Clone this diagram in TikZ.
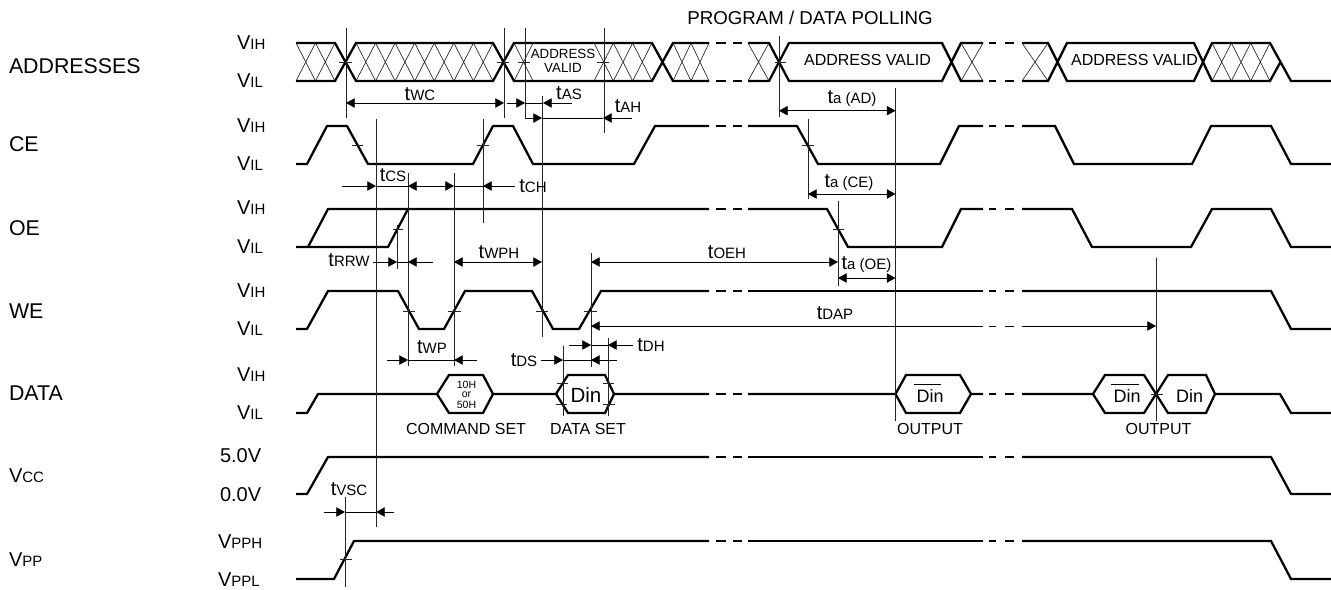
\documentclass[tikz,border=0pt]{standalone}
\usepackage{fontspec}
\setmainfont{Liberation Sans}
\usetikzlibrary{arrows.meta}
\newcommand\bigt[1]{\fontsize{15}{18}\selectfont #1}
\newcommand\smt[1]{\fontsize{11.25}{14}\selectfont #1}
\newcommand\tm[1]{\bigt{t}\smt{#1}}
\newcommand\vv[1]{\bigt{V}\smt{#1}}
\newcommand\hatchcells[3]{\foreach \i in {1,...,#3}{%
  \pgfmathsetmacro\xa{#1+(\i-1)*(#2-#1)/#3}\pgfmathsetmacro\xb{#1+\i*(#2-#1)/#3}%
  \draw[hatchline] (\xa,43) -- (\xb,81) (\xa,81) -- (\xb,43);}}
\tikzset{
  x=0.75pt,y=-0.75pt,
  sig/.style={line width=1.7pt,line join=miter,black},
  thinl/.style={line width=0.75pt,black!85},
  hatchline/.style={line width=0.5pt,black!85},
  tickl/.style={line width=0.6pt,black!85},
  dimr/.style={line width=0.6pt,-{Triangle[length=6.5pt,width=7pt]}},
  dimb/.style={line width=0.6pt,{Triangle[length=6.5pt,width=7pt]}-{Triangle[length=6.5pt,width=7pt]}},
  dimp/.style={line width=0.6pt},
  lab/.style={inner sep=0pt,outer sep=0pt,align=center},
  name1/.style={lab,anchor=west,font=\fontsize{16}{18}\selectfont},
  lev/.style={lab,anchor=west},
  captxt/.style={lab,font=\fontsize{12}{14}\selectfont},
}
\begin{document}
\begin{tikzpicture}
\useasboundingbox (0,0) rectangle (1331,589);
% signal names
\node[name1] (nA) at (9,66) {ADDRESSES};
\node[name1] (nC) at (9,144.5) {CE};
\node[name1] (nO) at (9,228.5) {OE};
\node[name1] (nW) at (9,311.5) {WE};
\node[name1] (nD) at (9,393.5) {DATA};
\node[lev] (nV) at (9,476) {\vv{CC}};
\node[lev] (nP) at (9,560) {\vv{PP}};
% level labels
\foreach \n/\y in {a/43,c/126,o/208,w/291,d/375} \node[lev] (h\n) at (237,\y) {\vv{IH}};
\foreach \n/\y in {a/81,c/164,o/247,w/329,d/413} \node[lev] (l\n) at (237,\y) {\vv{IL}};
\node[lev] (v5) at (220,456) {\bigt{5.0V}};
\node[lev] (v0) at (220,495) {\bigt{0.0V}};
\node[lev] (pph) at (218,542) {\vv{PPH}};
\node[lev] (ppl) at (218,580) {\vv{PPL}};
\node[captxt,font=\fontsize{14}{16}\selectfont] (title) at (810,18) {PROGRAM / DATA POLLING};
% addresses: hatching
\hatchcells{296}{335}{2}
\hatchcells{356}{493}{7}
\hatchcells{514}{533}{1}
\hatchcells{594}{652}{3}
\hatchcells{673}{709}{2}
\hatchcells{748}{769}{1}
\hatchcells{961}{983}{1}
\hatchcells{1022}{1048}{1}
\hatchcells{1212}{1270}{3}
% addresses: outline
\draw[sig] (296,43) -- (335,43) -- (356,81) -- (493,81) -- (514,43) -- (652,43) -- (673,81) -- (709,81)
  (296,81) -- (335,81) -- (356,43) -- (493,43) -- (514,81) -- (652,81) -- (673,43) -- (709,43);
\draw[sig] (748,43) -- (769,43) -- (789,81) -- (942,81) -- (961,43) -- (983,43)
  (748,81) -- (769,81) -- (789,43) -- (942,43) -- (961,81) -- (983,81);
\draw[sig] (1022,43) -- (1048,43) -- (1067,81) -- (1194,81) -- (1212,43) -- (1270,43) -- (1291,81) -- (1331,81)
  (1022,81) -- (1048,81) -- (1067,43) -- (1194,43) -- (1212,81) -- (1270,81) -- (1280.5,62);
\foreach \y in {43,81} \draw[sig] (716,\y) -- (726,\y) (733,\y) -- (742,\y) (988.5,\y) -- (996,\y) (1005,\y) -- (1013.5,\y);
% CE
\draw[sig] (296,164) -- (307,164) -- (327,126) -- (347,126) -- (368,164) -- (473,164) -- (493,126) -- (513,126) -- (533,164) -- (634,164) -- (655,126) -- (709,126);
\draw[sig] (748,126) -- (797,126) -- (818,164) -- (940,164) -- (959,126) -- (983,126);
\draw[sig] (1022,126) -- (1055,126) -- (1074,164) -- (1192,164) -- (1211,126) -- (1271,126) -- (1291,164) -- (1331,164);
% OE
\draw[sig] (296,247) -- (388,247) -- (408,209) (308,247) -- (328,209) -- (709,209);
\draw[sig] (748,209) -- (827,209) -- (848,247) -- (942,247) -- (961,209) -- (983,209);
\draw[sig] (1022,209) -- (1072,209) -- (1092,247) -- (1191,247) -- (1212,209) -- (1271,209) -- (1291,247) -- (1331,247);
% WE
\draw[sig] (296,329) -- (307,329) -- (328,291) -- (398,291) -- (419,329) -- (444,329) -- (465,291) -- (532,291) -- (553,329) -- (579,329) -- (601,291) -- (709,291);
\draw[sig] (748,291) -- (983,291);
\draw[sig] (1022,291) -- (1271,291) -- (1291,329) -- (1331,329);
% DATA
\draw[sig] (296,413) -- (307,413) -- (318,394) -- (437,394) -- (449,375) -- (483,375) -- (493,394) -- (556,394) -- (568,375) -- (605,375) -- (614,394) -- (709,394);
\draw[sig] (437,394) -- (449,413) -- (483,413) -- (493,394) (556,394) -- (568,413) -- (605,413) -- (614,394);
\draw[sig] (748,394) -- (895.5,394) -- (906,375) -- (960,375) -- (971,394) -- (983,394) (895.5,394) -- (906,413) -- (960,413) -- (971,394);
\draw[sig] (1022,394) -- (1093,394) -- (1105,375) -- (1144,375) -- (1168,413) -- (1206,413) -- (1215,394) -- (1280,394) -- (1291,413) -- (1331,413);
\draw[sig] (1093,394) -- (1105,413) -- (1144,413) -- (1168,375) -- (1206,375) -- (1215,394);
% Vcc
\draw[sig] (296,494) -- (307,494) -- (328,457) -- (709,457);
\draw[sig] (748,457) -- (983,457);
\draw[sig] (1022,457) -- (1271,457) -- (1291,494) -- (1331,494);
% Vpp
\draw[sig] (296,579) -- (334,579) -- (354,541) -- (709,541);
\draw[sig] (748,541) -- (983,541);
\draw[sig] (1022,541) -- (1271,541) -- (1291,579) -- (1331,579);
% dashes on the single-level rows
\foreach \y in {126,209,291,394,457,541} \draw[sig] (716,\y) -- (726,\y) (733,\y) -- (742,\y) (988.5,\y) -- (996,\y) (1005,\y) -- (1013.5,\y);
% reference lines
\foreach \x/\a/\b in {346/28/118,504/28/118,525/28/118,604/28/133,542/96/337,376/119/527,483/119/223,
  408/173/366,454/173/366,397/225/269,591/253/367,563/346/416,608/338/416,
  779/36/117,895.5/88/421,808/119/199,838/201/286,1156/258/421,345/497/587}
  \draw[thinl] (\x,\a) -- (\x,\b);
% ticks
\foreach \a/\b/\y in {339/352/62,497/509/62,518/530/62,597/609/62,775/786/62,
  352/363/145,477/489/145,802/814/145,393/403/229,833/844/229,
  403/415/311,448/461/311,536/548/311,584/597/311,
  557/568/383,603/614/383,556/567/404,603/615/404,1151/1163/394,340/352/559}
  \draw[tickl] (\a,\y) -- (\b,\y);
% named dimension ends
\foreach \n/\x/\y in {wcA/346/103,wcB/504/103,asA/507/103,asB/525/103,asC/543/103,asD/572/103,
  ahA/525/118,ahB/542/118,ahC/603/118,ahD/632/118,
  csA/342/186,csB/376/186,csC/408/186,csD/454/186,csE/483/186,csF/515/186,
  rrA/373/262,rrB/397/262,rrC/408/262,rrD/433/262,wphA/454/262,wphB/542/262,
  oehA/591/262,oehB/838/262,oeA/838/278,oeB/895.5/278,
  dapA/591/326,dapB/1156/326,wpA/387/360,wpB/408/360,wpC/454/360,wpD/477/360,
  dsA/541/360,dsB/563/360,dsC/591/360,dsD/617/360,
  dhA/569/345,dhB/591/345,dhC/608/345,dhD/633/345,
  vsA/324/512,vsB/345/512,vsC/376/512,vsD/394/512,
  adA/779/110.7,adB/895.5/110.7,ceA/808/194,ceB/895.5/194,
  dapC/748/326,dapD/983/326,dapE/988.5/326,dapF/1013.5/326,dapG/1022/326}
  \coordinate (\n) at (\x,\y);
\draw[dimb] (wcA) -- (wcB);
\draw[dimr] (asA) -- (asB); \draw[dimr] (asD) -- (asC); \draw[dimp] (asB) -- (asC);
\draw[dimr] (ahA) -- (ahB); \draw[dimr] (ahD) -- (ahC); \draw[dimp] (ahB) -- (ahC);
\draw[dimr] (csA) -- (csB); \draw[dimp] (csB) -- (csC);
\draw[dimb] (csC) -- (csD); \draw[dimr] (csF) -- (csE); \draw[dimp] (csD) -- (csE);
\draw[dimr] (rrA) -- (rrB); \draw[dimr] (rrD) -- (rrC); \draw[dimp] (rrB) -- (rrC);
\draw[dimb] (wphA) -- (wphB);
\draw[dimb] (oehA) -- (oehB);
\draw[dimb] (oeA) -- (oeB);
\draw[{Triangle[length=6.5pt,width=7pt]}-,dimp] (dapA) -- (dapD);
\draw[dimp] (dapE) -- (996,326) (1005,326) -- (dapF);
\draw[dimr] (dapG) -- (dapB);
\draw[dimr] (wpA) -- (wpB); \draw[dimr] (wpD) -- (wpC); \draw[dimp] (wpB) -- (wpC);
\draw[dimr] (dsA) -- (dsB); \draw[dimp] (dsB) -- (dsD); \draw[dimr] (dsD) -- (dsC);
\draw[dimr] (dhA) -- (dhB); \draw[dimr] (dhD) -- (dhC); \draw[dimp] (dhB) -- (dhC);
\draw[dimr] (vsA) -- (vsB); \draw[dimr] (vsD) -- (vsC); \draw[dimp] (vsB) -- (vsC);
\draw[dimb] (adA) -- (adB);
\draw[dimb] (ceA) -- (ceB);
% timing labels
\node[lab] (tWC) at (420,94) {\tm{WC}};
\node[lab] (tAS) at (569,93) {\tm{AS}};
\node[lab] (tAH) at (628,106) {\tm{AH}};
\node[lab] (tCS) at (393,175) {\tm{CS}};
\node[lab] (tCH) at (533,186) {\tm{CH}};
\node[lab] (tRRW) at (349,260) {\tm{RRW}};
\node[lab] (tWPH) at (499,252) {\tm{WPH}};
\node[lab] (tOEH) at (727,252) {\tm{OEH}};
\node[lab] (tOE) at (866.5,265) {\bigt{t}\smt{a (OE)}};
\node[lab] (tDAP) at (835,313) {\tm{DAP}};
\node[lab] (tWP) at (432,347) {\tm{WP}};
\node[lab] (tDS) at (524,360) {\tm{DS}};
\node[lab] (tDH) at (651,345) {\tm{DH}};
\node[lab] (tVSC) at (349,489) {\bigt{t}\smt{VSC}};
\node[lab] (tAD) at (852,99) {\bigt{t}\smt{a (AD)}};
\node[lab] (tCE) at (849,183) {\bigt{t}\smt{a (CE)}};
% inner texts
\node[lab,font=\fontsize{10}{10}\selectfont] (av1) at (563,54) {ADDRESS};
\node[lab,font=\fontsize{10}{10}\selectfont] (av1b) at (563,67.5) {VALID};
\node[captxt] (av2) at (867.5,59.5) {ADDRESS VALID};
\node[captxt] (av3) at (1134.5,59.5) {ADDRESS VALID};
\node[lab,font=\fontsize{7.9}{8}\selectfont] (c1) at (466.5,384.5) {10H};
\node[lab,font=\fontsize{7.9}{8}\selectfont] (c2) at (466.5,394.5) {or};
\node[lab,font=\fontsize{7.9}{8}\selectfont] (c3) at (466.5,405) {50H};
\node[lab,font=\fontsize{15.4}{16}\selectfont] (din1) at (586,395.5) {Din};
\node[lab,font=\fontsize{13.5}{16}\selectfont] (din2) at (930,396) {Din};
\node[lab,font=\fontsize{13.5}{16}\selectfont] (din3) at (1127,396) {Din};
\node[lab,font=\fontsize{13.5}{16}\selectfont] (din4) at (1189.5,396) {Din};
\draw[dimp] (914,384) -- (941,384) (1111,384) -- (1139,384);
\node[captxt] (cs) at (466,429) {COMMAND SET};
\node[captxt] (ds) at (588,429) {DATA SET};
\node[captxt] (o1) at (930,429) {OUTPUT};
\node[captxt] (o2) at (1158.5,429) {OUTPUT};
\end{tikzpicture}
\end{document}
